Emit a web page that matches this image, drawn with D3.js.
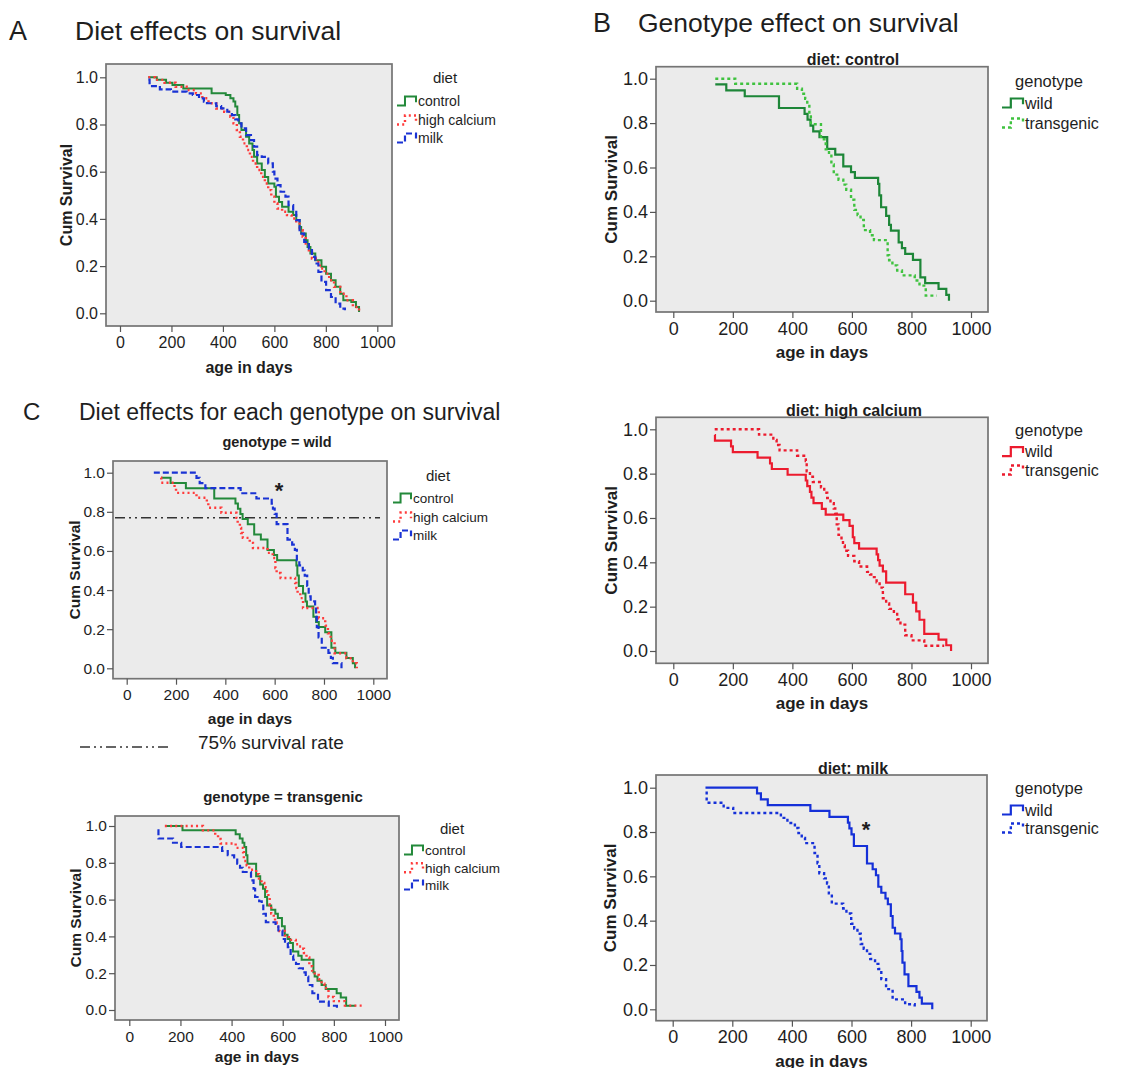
<!DOCTYPE html>
<html><head><meta charset="utf-8">
<script src="https://cdn.jsdelivr.net/npm/d3@7"></script>
<style>body{margin:0;background:#fff;} text{font-family:"Liberation Sans",Arial,sans-serif;fill:#1e1e1e;}</style>
</head><body>
<svg id="c" width="1127" height="1068"></svg>
<script>
// ---------- tick labels / categories ----------
const xTicks = [0, 200, 400, 600, 800, 1000];
const yTicks = [0, 0.2, 0.4, 0.6, 0.8, 1.0];
const dietNames = ["control", "high calcium", "milk"];
const genotypeNames = ["wild", "transgenic"];
const refSurvival = 0.77;

// ---------- pooled (all genotypes) Kaplan-Meier curves: [age in days, cum survival] ----------
const controlAll = [[110,1.0],[143,0.99],[179,0.977],[204,0.967],[246,0.953],[356,0.932],[411,0.925],[429,0.911],[441,0.897],[448,0.876],[456,0.84],[463,0.805],[472,0.777],[490,0.748],[502,0.72],[515,0.692],[521,0.663],[533,0.635],[551,0.607],[563,0.578],[576,0.55],[600,0.536],[606,0.494],[618,0.472],[630,0.451],[655,0.43],[673,0.416],[685,0.395],[698,0.366],[704,0.338],[722,0.31],[729,0.281],[740,0.253],[759,0.225],[783,0.197],[801,0.168],[820,0.14],[838,0.112],[856,0.083],[868,0.055],[899,0.048],[917,0.027],[929,0.006]];
const highCalciumAll = [[110,1.0],[137,0.989],[173,0.977],[216,0.96],[259,0.946],[295,0.932],[320,0.911],[344,0.89],[374,0.868],[405,0.854],[429,0.833],[441,0.805],[454,0.777],[466,0.748],[478,0.72],[493,0.692],[505,0.663],[517,0.635],[533,0.607],[549,0.578],[563,0.55],[576,0.522],[588,0.494],[600,0.465],[612,0.444],[630,0.43],[649,0.416],[667,0.402],[685,0.38],[698,0.352],[710,0.324],[722,0.296],[734,0.26],[746,0.232],[761,0.218],[777,0.19],[795,0.168],[813,0.14],[832,0.112],[856,0.083],[880,0.055],[905,0.027],[929,0.01]];
const milkAll = [[110,0.99],[115,0.963],[155,0.949],[198,0.939],[259,0.932],[283,0.925],[307,0.911],[326,0.897],[338,0.89],[374,0.878],[393,0.868],[417,0.854],[435,0.84],[448,0.822],[460,0.805],[472,0.784],[490,0.755],[509,0.734],[521,0.706],[533,0.67],[551,0.663],[563,0.656],[576,0.635],[594,0.6],[600,0.571],[612,0.543],[624,0.515],[643,0.494],[655,0.458],[673,0.43],[685,0.395],[698,0.338],[716,0.303],[734,0.274],[746,0.239],[759,0.211],[771,0.175],[783,0.133],[801,0.098],[820,0.069],[838,0.041],[856,0.02],[874,0.013]];

// ---------- wild genotype ----------
const wildControl = [[141,0.974],[178,0.947],[240,0.921],[355,0.868],[441,0.842],[451,0.816],[461,0.789],[470,0.763],[491,0.737],[517,0.684],[544,0.658],[571,0.605],[597,0.579],[610,0.553],[688,0.526],[692,0.474],[698,0.421],[715,0.382],[725,0.342],[731,0.316],[757,0.263],[768,0.237],[779,0.211],[805,0.184],[830,0.105],[846,0.079],[891,0.053],[917,0.026],[926,0.0]];
const wildHighCalcium = [[139,0.974],[140,0.949],[194,0.923],[200,0.897],[283,0.872],[325,0.846],[331,0.821],[384,0.795],[445,0.769],[450,0.744],[459,0.718],[464,0.692],[471,0.667],[499,0.641],[512,0.615],[571,0.59],[592,0.564],[603,0.513],[608,0.487],[624,0.462],[683,0.436],[688,0.41],[693,0.385],[704,0.359],[715,0.308],[779,0.256],[805,0.218],[816,0.179],[827,0.141],[843,0.077],[891,0.051],[917,0.026],[933,0.0]];
const wildMilk = [[110,1.0],[283,0.974],[296,0.947],[319,0.921],[462,0.895],[526,0.868],[588,0.842],[593,0.816],[600,0.789],[608,0.737],[652,0.658],[671,0.632],[682,0.605],[690,0.553],[700,0.526],[714,0.5],[722,0.474],[732,0.421],[738,0.368],[746,0.342],[764,0.316],[768,0.263],[771,0.211],[778,0.158],[791,0.105],[818,0.079],[828,0.053],[836,0.026],[871,0.0]];

// ---------- transgenic genotype ----------
const transControl = [[141,1.0],[208,0.977],[416,0.955],[432,0.932],[443,0.909],[450,0.886],[457,0.841],[462,0.795],[496,0.727],[512,0.682],[523,0.659],[531,0.614],[539,0.568],[555,0.545],[571,0.523],[581,0.5],[597,0.455],[608,0.409],[619,0.386],[629,0.364],[640,0.318],[661,0.295],[674,0.273],[720,0.205],[725,0.182],[736,0.159],[752,0.136],[768,0.114],[811,0.091],[827,0.068],[848,0.023],[885,0.023]];
const transHighCalcium = [[139,1.0],[288,0.976],[336,0.952],[347,0.929],[357,0.905],[416,0.881],[445,0.857],[448,0.81],[459,0.786],[469,0.762],[496,0.738],[507,0.714],[517,0.69],[528,0.667],[539,0.643],[544,0.619],[549,0.571],[555,0.524],[565,0.5],[570,0.476],[576,0.452],[587,0.429],[608,0.405],[624,0.381],[651,0.357],[661,0.345],[674,0.333],[683,0.31],[693,0.286],[704,0.238],[715,0.214],[725,0.19],[741,0.167],[752,0.143],[763,0.119],[779,0.071],[800,0.048],[843,0.024],[910,0.024]];
const transMilk = [[110,0.977],[114,0.932],[171,0.909],[203,0.886],[363,0.864],[385,0.841],[410,0.818],[422,0.795],[433,0.773],[444,0.75],[476,0.705],[486,0.659],[492,0.614],[508,0.591],[518,0.568],[524,0.523],[534,0.477],[572,0.455],[583,0.432],[599,0.386],[609,0.364],[620,0.341],[631,0.295],[641,0.273],[652,0.25],[663,0.227],[679,0.205],[690,0.182],[700,0.136],[716,0.091],[738,0.045],[780,0.023],[812,0.0]];

// ---------- styles ----------
const FONT = '"Liberation Sans", Arial, sans-serif';
const dietStyle = [
  {color:"#23893a", dash:null, width:2},
  {color:"#ff3b3b", dash:"2,3.2", width:2.4},
  {color:"#1a33d4", dash:"6,3", width:2.2}
];
const genoColors = [["#1d8638","#3fc23f"],["#ec1b2e","#ec1b2e"],["#1530d8","#1530d8"]];
const genoStyle = [{dash:null, width:2.2},{dash:"3,3", width:2.4}];

const svg = d3.select("#c");

function drawPanel(p){
  const g = svg.append("g");
  const [bl,bt,br,bb] = p.box;
  const x = d3.scaleLinear().domain([0,1000]).range([p.x0,p.x1]);
  const y = d3.scaleLinear().domain([0,1]).range([p.y0,p.y1]);
  g.append("rect").attr("x",bl).attr("y",bt).attr("width",br-bl).attr("height",bb-bt).attr("fill","#ebebeb");
  if (p.ref) {
    g.append("line").attr("x1",p.ref[0]).attr("x2",p.ref[1]).attr("y1",y(refSurvival)).attr("y2",y(refSurvival))
      .attr("stroke","#333").attr("stroke-width",1.6).attr("stroke-dasharray","10,4,2,4,2,4");
  }
  const line = d3.line().x(d=>x(d[0])).y(d=>y(d[1])).curve(d3.curveStepAfter);
  p.series.forEach(s=>{
    g.append("path").datum(s.data).attr("d",line).attr("fill","none")
      .attr("stroke",s.color).attr("stroke-width",s.width).attr("stroke-dasharray",s.dash);
  });
  g.append("rect").attr("x",bl).attr("y",bt).attr("width",br-bl).attr("height",bb-bt)
    .attr("fill","none").attr("stroke","#747474").attr("stroke-width",1.7);
  // axes
  const xa = g.append("g").attr("transform",`translate(0,${bb})`)
    .call(d3.axisBottom(x).tickValues(xTicks).tickFormat(d3.format("d")).tickSize(6).tickPadding(p.xpad));
  const ya = g.append("g").attr("transform",`translate(${bl},0)`)
    .call(d3.axisLeft(y).tickValues(yTicks).tickFormat(d3.format(".1f")).tickSize(6).tickPadding(2));
  [xa,ya].forEach(a=>{
    a.select(".domain").remove();
    a.attr("font-family",FONT).attr("font-size",p.tfs);
    a.selectAll("line").attr("stroke","#555").attr("stroke-width",1.2);
    a.selectAll("text").attr("fill","#1e1e1e");
  });
  // axis titles
  g.append("text").attr("x",(bl+br)/2).attr("y",bb+p.xlabOff).attr("text-anchor","middle")
    .attr("font-weight","bold").attr("font-size",p.afs).text("age in days");
  g.append("text").attr("transform",`translate(${p.ylabX},${(bt+bb)/2}) rotate(-90)`)
    .attr("text-anchor","middle").attr("dominant-baseline","central")
    .attr("font-weight","bold").attr("font-size",p.afs).text("Cum Survival");
  if (p.sub) {
    g.append("text").attr("x",p.sub[0]).attr("y",p.sub[1]).attr("text-anchor","middle")
      .attr("font-weight","bold").attr("font-size",p.sfs).text(p.sub[2]);
  }
  // legend
  const L = p.legend;
  g.append("text").attr("x",L.tx).attr("y",L.ty).attr("text-anchor","middle").attr("font-size",L.tfs).text(L.title);
  L.names.forEach((nm,i)=>{
    const yc = L.rows[i], s = p.series[i], sx = L.sx, w = L.w, h = L.h;
    g.append("path").attr("d",`M${sx},${yc+h*0.5} H${sx+w*0.42} V${yc-h*0.5} H${sx+w} V${yc+h*0.15}`)
      .attr("fill","none").attr("stroke",s.color).attr("stroke-width",s.width).attr("stroke-dasharray",s.dash);
    g.append("text").attr("x",sx+w+2).attr("y",yc).attr("dy","0.36em").attr("font-size",L.fs).text(nm);
  });
}

function dietSeries(arrs){ return arrs.map((d,i)=>({data:d, color:dietStyle[i].color, dash:dietStyle[i].dash, width:dietStyle[i].width})); }
function genoSeries(arrs, di){ return arrs.map((d,i)=>({data:d, color:genoColors[di][i], dash:genoStyle[i].dash, width:genoStyle[i].width})); }

// Panel A
drawPanel({box:[106,64,392,326], x0:120, x1:377.3, y0:313.3, y1:77.3, xpad:5, tfs:16, afs:16, xlabOff:47, ylabX:66,
  series: dietSeries([controlAll, highCalciumAll, milkAll]),
  legend:{title:"diet", tx:445, ty:83, tfs:15, names:dietNames, rows:[101,120,138], sx:397, w:19, h:9, fs:14}});

// Panel B
const bLeg = (rows, ty)=>({title:"genotype", tx:1049, ty:ty, tfs:16.5, names:genotypeNames, rows:rows, sx:1002, w:21, h:9, fs:16});
drawPanel({box:[656,66.7,988,312], x0:673.3, x1:971, y0:300.7, y1:78.7, xpad:4, tfs:18, afs:17, xlabOff:46, ylabX:611,
  sub:[853,65,"diet: control"], sfs:16,
  series: genoSeries([wildControl, transControl], 0), legend: bLeg([103,123], 87)});
drawPanel({box:[656,417.3,988,663.3], x0:673.3, x1:971, y0:651, y1:429.3, xpad:4, tfs:18, afs:17, xlabOff:46, ylabX:611,
  sub:[854,416,"diet: high calcium"], sfs:16,
  series: genoSeries([wildHighCalcium, transHighCalcium], 1), legend: bLeg([451.7,470], 436)});
drawPanel({box:[656,775,987,1020.7], x0:672.7, x1:970.7, y0:1009.3, y1:787.7, xpad:4, tfs:18, afs:17, xlabOff:46, ylabX:610,
  sub:[853,774,"diet: milk"], sfs:16,
  series: genoSeries([wildMilk, transMilk], 2), legend: bLeg([810,828], 794)});

// Panel C
drawPanel({box:[113,461,387,678.7], x0:126.7, x1:373.3, y0:668.3, y1:472.7, xpad:4.5, tfs:15.5, afs:15.5, xlabOff:45, ylabX:74,
  sub:[277,447,"genotype = wild"], sfs:14.5, ref:[115,380],
  series: dietSeries([wildControl, wildHighCalcium, wildMilk]),
  legend:{title:"diet", tx:438, ty:481, tfs:15, names:dietNames, rows:[498,517,535], sx:393, w:18, h:9, fs:13.5}});
drawPanel({box:[115,816,399,1020], x0:129.3, x1:385, y0:1010, y1:826, xpad:4.5, tfs:15.5, afs:15.5, xlabOff:42, ylabX:75,
  sub:[283,802,"genotype = transgenic"], sfs:15,
  series: dietSeries([transControl, transHighCalcium, transMilk]),
  legend:{title:"diet", tx:452, ty:834, tfs:15, names:dietNames, rows:[850,867.7,885], sx:404, w:19, h:9, fs:13.5}});

// headings
const heads = [
  {x:9, y:40, t:"A", s:27}, {x:75, y:40, t:"Diet effects on survival", s:26.5},
  {x:593, y:32, t:"B", s:27}, {x:638, y:32, t:"Genotype effect on survival", s:26.5},
  {x:23, y:420, t:"C", s:24}, {x:79, y:420, t:"Diet effects for each genotype on survival", s:23}
];
heads.forEach(h=>svg.append("text").attr("x",h.x).attr("y",h.y).attr("font-size",h.s).text(h.t));

// asterisks
svg.append("text").attr("x",279).attr("y",498).attr("text-anchor","middle").attr("font-weight","bold").attr("font-size",22).text("*");
svg.append("text").attr("x",866).attr("y",837).attr("text-anchor","middle").attr("font-weight","bold").attr("font-size",22).text("*");

// 75% survival key
svg.append("line").attr("x1",80).attr("x2",172).attr("y1",747).attr("y2",747)
  .attr("stroke","#333").attr("stroke-width",1.6).attr("stroke-dasharray","10,4,2,4,2,4");
svg.append("text").attr("x",198).attr("y",748.5).attr("font-size",19).text("75% survival rate");
</script>
</body></html>
